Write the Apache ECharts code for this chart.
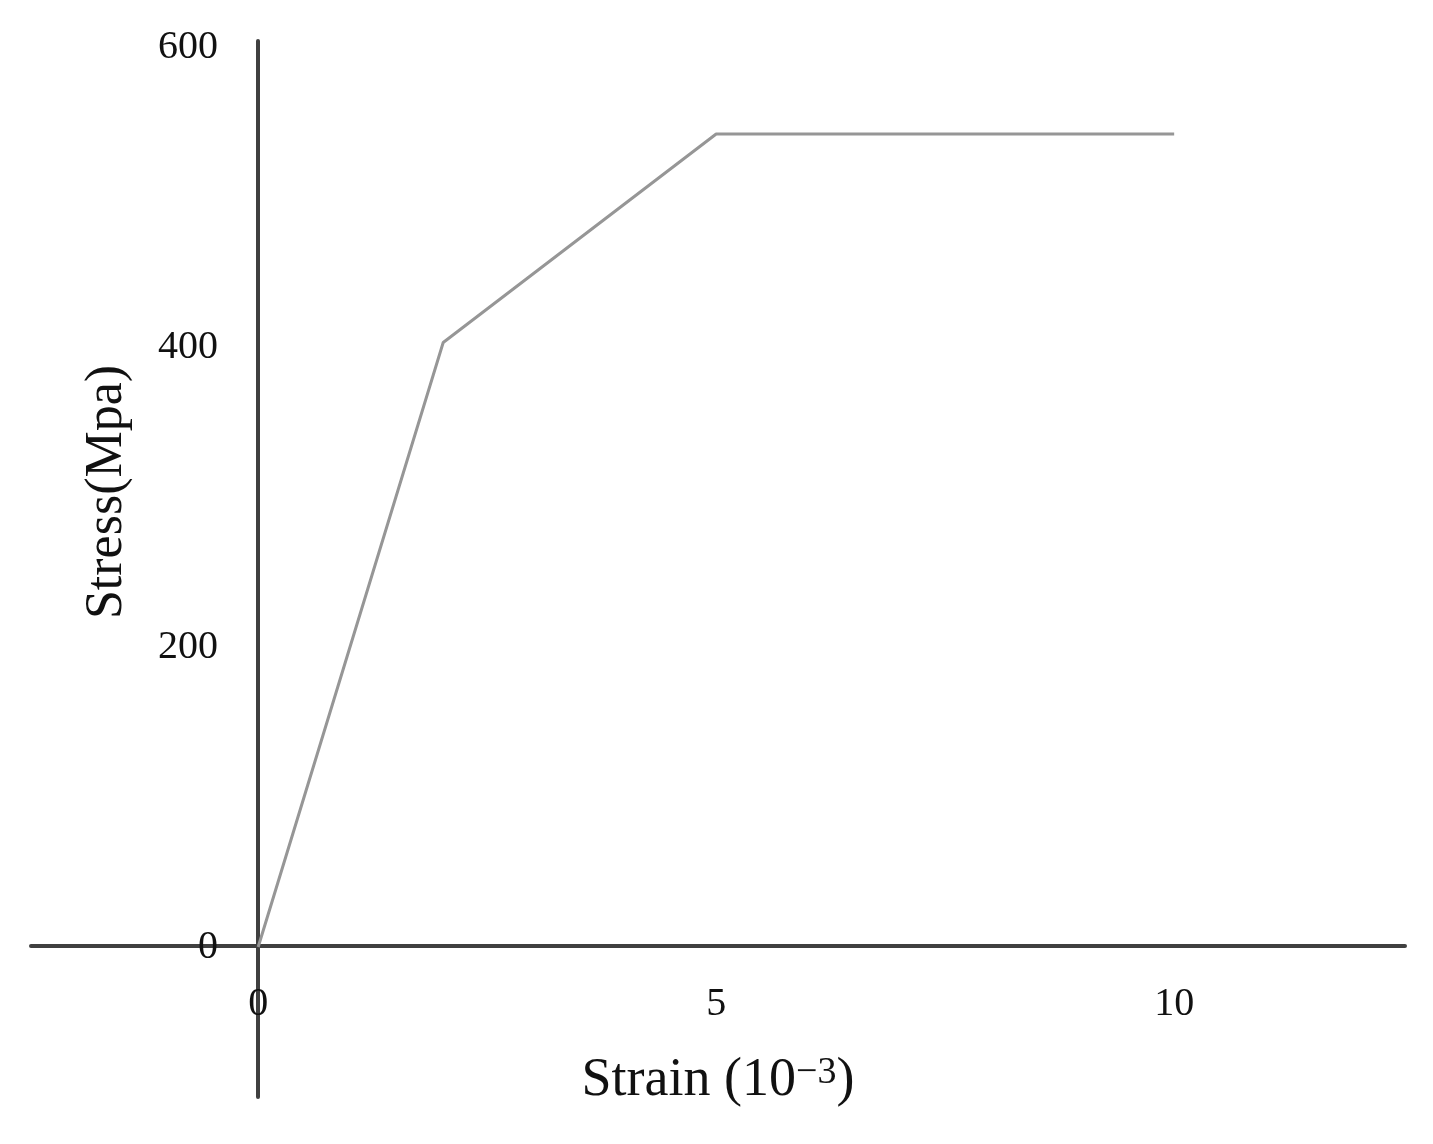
<!DOCTYPE html>
<html>
<head>
<meta charset="utf-8">
<script src="https://cdn.jsdelivr.net/npm/echarts@6/dist/echarts.min.js"></script>
<style>
html,body{margin:0;padding:0;background:#fff;}
#chart{width:1433px;height:1144px;}
</style>
</head>
<body>
<div id="chart"></div>
<script>
// Data (strain in 10^-3, stress in MPa)
const strain = [0, 2.02, 5, 10];
const stress = [0, 403, 542, 542];
const xTickValues = [0, 5, 10];
const yTickValues = [0, 200, 400, 600];
const xAxisName = 'Strain (10';
const xAxisSup = '\u22123';
const yAxisName = 'Stress(Mpa)';

const points = strain.map((x, i) => [x, stress[i]]);
const font = '"Liberation Serif", "DejaVu Serif", serif';

const chart = echarts.init(document.getElementById('chart'));
chart.setOption({
  backgroundColor: '#ffffff',
  animation: false,
  grid: { left: 31, right: 28, top: 41, bottom: 47, containLabel: false, outerBoundsMode: 'none' },
  xAxis: {
    type: 'value',
    min: -2.48, max: 12.52,
    position: 'bottom',
    offset: -151,
    axisLine: { onZero: false, lineStyle: { color: '#404040', width: 4 } },
    axisTick: { show: false },
    splitLine: { show: false },
    axisLabel: {
      customValues: xTickValues,
      margin: 38,
      fontFamily: font, fontSize: 40, color: '#111'
    },
    name: '{a|' + xAxisName + '}{b|' + xAxisSup + '}{a|)}',
    nameLocation: 'middle',
    nameGap: 108,
    nameTextStyle: {
      rich: {
        a: { fontFamily: font, fontSize: 54, color: '#111' },
        b: { fontFamily: font, fontSize: 38, color: '#111', verticalAlign: 'top' }
      }
    }
  },
  yAxis: {
    type: 'value',
    min: -100, max: 604,
    position: 'left',
    offset: -227,
    axisLine: { onZero: false, lineStyle: { color: '#404040', width: 4 } },
    axisTick: { show: false },
    splitLine: { show: false },
    axisLabel: {
      customValues: yTickValues,
      margin: 40,
      fontFamily: font, fontSize: 40, color: '#111'
    }
  },
  graphic: [{
    type: 'text',
    x: 107, y: 492,
    rotation: Math.PI / 2,
    style: {
      text: yAxisName,
      fontFamily: font, fontSize: 52, fill: '#111',
      align: 'center', verticalAlign: 'middle'
    }
  }],
  series: [{
    type: 'line',
    data: points,
    symbol: 'none',
    lineStyle: { color: '#969696', width: 3 }
  }]
});
</script>
</body>
</html>
